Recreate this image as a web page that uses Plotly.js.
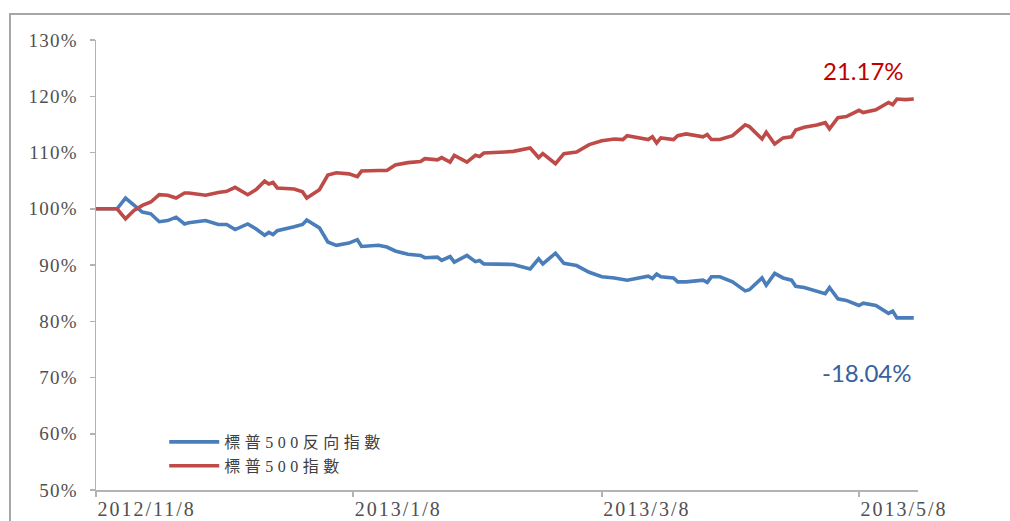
<!DOCTYPE html>
<html>
<head>
<meta charset="utf-8">
<script src="https://cdn.plot.ly/plotly-3.0.1.min.js"></script>
<style>
  html, body { margin: 0; padding: 0; background: #fff; }
  #wrap { position: relative; width: 1010px; height: 521px; }
  #chart { width: 1010px; height: 521px; }
  #frame { position: absolute; left: 9px; top: 13px; width: 1001px; height: 508px;
           border-top: 2px solid #a6a6a6; border-left: 2px solid #a6a6a6; box-sizing: border-box; pointer-events: none; }
  .legendtext { letter-spacing: 4.5px; }
  .ytick text { letter-spacing: 1.2px; }
  .xtick text { letter-spacing: 2px; }
</style>
</head>
<body>
<div id="wrap">
  <div id="chart"></div>
  <div id="frame"></div>
</div>
<script>
// Dates (trading days)
const dates = [
  '2012-11-08','2012-11-13','2012-11-15','2012-11-17','2012-11-19','2012-11-21','2012-11-23','2012-11-25',
  '2012-11-27','2012-11-29','2012-11-30','2012-12-04','2012-12-07','2012-12-09','2012-12-11','2012-12-14',
  '2012-12-16','2012-12-18','2012-12-19','2012-12-20','2012-12-21','2012-12-25','2012-12-27','2012-12-28',
  '2012-12-31','2013-01-02','2013-01-04','2013-01-07','2013-01-09','2013-01-10','2013-01-14','2013-01-16',
  '2013-01-18','2013-01-21','2013-01-24','2013-01-25','2013-01-28','2013-01-29','2013-01-31','2013-02-01',
  '2013-02-04','2013-02-06','2013-02-07','2013-02-08','2013-02-13','2013-02-15','2013-02-19','2013-02-21',
  '2013-02-22','2013-02-25','2013-02-27','2013-03-02','2013-03-05','2013-03-08','2013-03-11','2013-03-13',
  '2013-03-14','2013-03-19','2013-03-20','2013-03-21','2013-03-22','2013-03-25','2013-03-26','2013-03-28',
  '2013-04-01','2013-04-02','2013-04-03','2013-04-05','2013-04-08','2013-04-11','2013-04-12','2013-04-15',
  '2013-04-16','2013-04-18','2013-04-20','2013-04-22','2013-04-23','2013-04-25','2013-04-28','2013-04-30',
  '2013-05-01','2013-05-03','2013-05-05','2013-05-08','2013-05-09','2013-05-12','2013-05-15','2013-05-16',
  '2013-05-17','2013-05-19','2013-05-21'
];

// 標普500指數 (%)
const spx = [
  100.0,100.0,98.2,99.7,100.6,101.2,102.5,102.4,
  101.9,102.8,102.8,102.4,102.9,103.1,103.8,102.5,
  103.4,104.9,104.4,104.7,103.7,103.5,103.0,101.9,
  103.4,106.0,106.4,106.2,105.7,106.7,106.8,106.8,
  107.8,108.2,108.4,108.9,108.7,109.1,108.3,109.5,
  108.3,109.5,109.3,109.9,110.1,110.2,110.8,109.1,
  109.8,108.0,109.8,110.1,111.4,112.1,112.4,112.3,
  113.0,112.3,112.8,111.7,112.6,112.3,113.0,113.3,
  112.8,113.2,112.3,112.3,113.0,114.9,114.6,112.4,
  113.6,111.5,112.6,112.8,114.0,114.5,114.9,115.3,
  114.2,116.2,116.4,117.5,117.1,117.6,118.9,118.5,
  119.5,119.4,119.5
];

// 標普500反向指數 (%)
const spxInverse = [
  100.0,100.0,101.9,100.6,99.4,99.1,97.7,97.9,
  98.5,97.3,97.5,97.9,97.2,97.2,96.3,97.3,
  96.4,95.3,95.8,95.4,96.1,96.8,97.2,98.0,
  96.6,94.1,93.5,93.9,94.5,93.3,93.5,93.2,
  92.5,91.9,91.7,91.3,91.4,90.8,91.5,90.5,
  91.7,90.6,90.8,90.2,90.1,90.1,89.3,91.1,
  90.2,92.1,90.3,89.9,88.7,87.9,87.7,87.5,
  87.3,88.0,87.6,88.4,87.9,87.7,87.0,87.0,
  87.3,86.9,87.9,87.9,87.0,85.4,85.6,87.7,
  86.4,88.5,87.7,87.3,86.2,86.0,85.4,84.9,
  86.0,84.0,83.7,82.8,83.2,82.8,81.4,81.8,
  80.6,80.6,80.6
];

const seriesNames = ['標普500反向指數', '標普500指數'];
const tickDates = ['2012-11-08','2013-01-08','2013-03-08','2013-05-08'];
const tickLabels = ['2012/11/8','2013/1/8','2013/3/8','2013/5/8'];
const yTicks = [50,60,70,80,90,100,110,120,130];
const yTickLabels = ['50%','60%','70%','80%','90%','100%','110%','120%','130%'];
const endLabels = ['21.17%', '-18.04%'];

const traces = [
  { x: dates, y: spxInverse, name: seriesNames[0], type: 'scatter', mode: 'lines',
    line: { color: '#4a7ebb', width: 3.6 } },
  { x: dates, y: spx, name: seriesNames[1], type: 'scatter', mode: 'lines',
    line: { color: '#be4b48', width: 3.6 } }
];

const layout = {
  width: 1010, height: 521,
  margin: { l: 95.5, r: 92, t: 39.5, b: 31, pad: 0 },
  paper_bgcolor: '#ffffff', plot_bgcolor: '#ffffff',
  showlegend: true,
  legend: {
    x: 0.083, y: 0.08, xanchor: 'left', yanchor: 'middle',
    bgcolor: 'rgba(0,0,0,0)', borderwidth: 0,
    font: { family: 'Liberation Serif, Noto Sans CJK TC, serif', size: 16, color: '#404040' },
    itemwidth: 50, tracegroupgap: 0
  },
  xaxis: {
    type: 'date', range: ['2012-11-08', '2013-05-22'],
    tickvals: tickDates, ticktext: tickLabels,
    ticks: 'outside', ticklen: 5, tickcolor: '#b3b3b3', tickwidth: 1.5,
    ticklabelposition: 'outside right',
    showline: true, linecolor: '#b3b3b3', linewidth: 1.5,
    showgrid: false, zeroline: false,
    tickfont: { family: 'Liberation Serif, serif', size: 20, color: '#505050' }, fixedrange: true
  },
  yaxis: {
    range: [50, 130], tickvals: yTicks, ticktext: yTickLabels,
    ticks: 'outside', ticklen: 5, tickcolor: '#b3b3b3', tickwidth: 1.5,
    ticklabelstandoff: 8,
    showline: true, linecolor: '#b3b3b3', linewidth: 1.5,
    showgrid: false, zeroline: false,
    tickfont: { family: 'Liberation Serif, serif', size: 19, color: '#505050' }, fixedrange: true
  },
  annotations: [
    { x: '2013-05-09', y: 124.6, xref: 'x', yref: 'y', text: endLabels[0], showarrow: false,
      font: { family: 'Lato, Open Sans, sans-serif', size: 24, color: '#c00000' } },
    { x: '2013-05-10', y: 70.9, xref: 'x', yref: 'y', text: endLabels[1], showarrow: false,
      font: { family: 'Lato, Open Sans, sans-serif', size: 24, color: '#37619c' } }
  ]
};

Plotly.newPlot('chart', traces, layout, { displayModeBar: false, staticPlot: true });
</script>
</body>
</html>
